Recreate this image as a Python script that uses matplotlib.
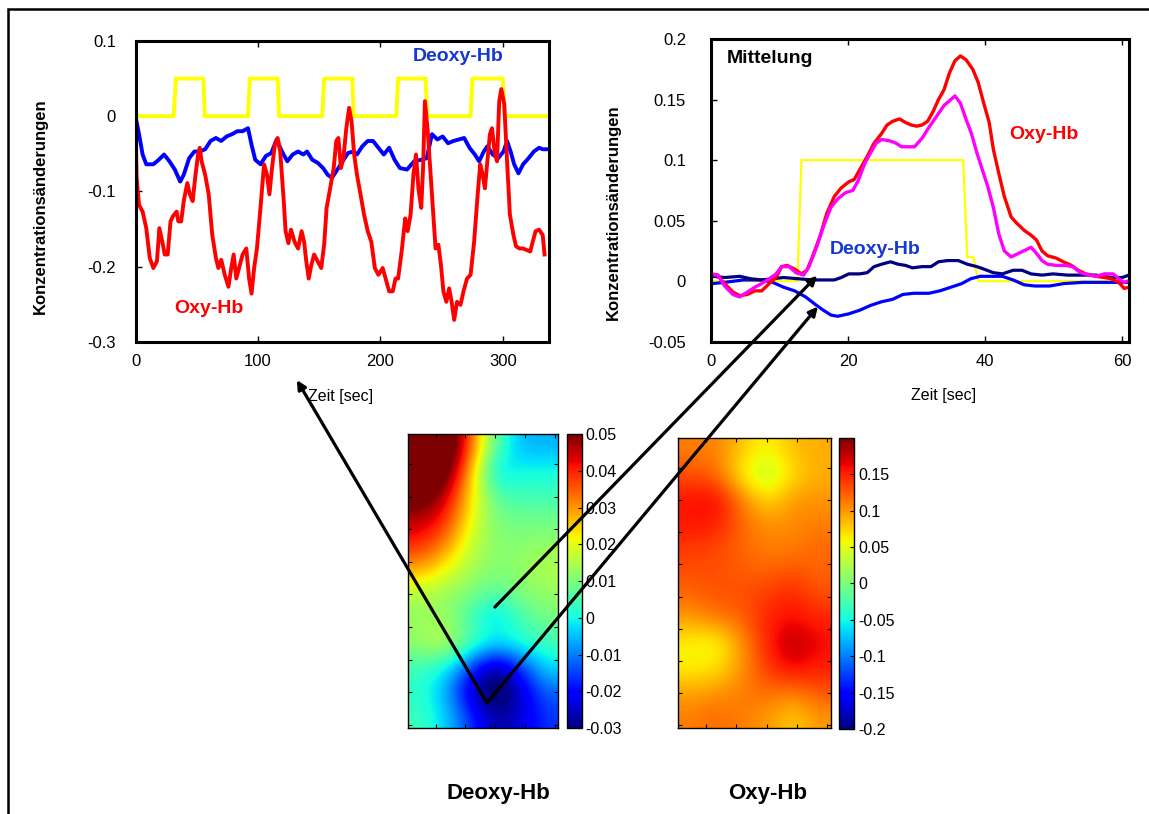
import numpy as np
import matplotlib
matplotlib.use('Agg')
import matplotlib.pyplot as plt
from matplotlib.patches import Rectangle, ConnectionPatch

plt.rcParams['font.family'] = ['Liberation Sans', 'DejaVu Sans']
plt.rcParams['axes.unicode_minus'] = False

# Einzelmessung: Oxy-Hb ueber die ganze Messung
zeit_oxy = [0, 0.9, 2.9, 5.8, 8.8, 11.7, 14.6, 17.5, 19.5, 21.9,
            23.9, 26.3, 28.6, 30.6, 33.6, 35, 37.3, 39.4, 42.3, 44.4,
            46.7, 49, 51.1, 52.5, 54, 56.9, 59.8, 62.7, 65.7, 67.7,
            70, 72.9, 75.9, 78.2, 80.2, 82.3, 84.6, 87.5, 90.5, 92.8,
            94.8, 96.9, 99.2, 102.1, 105, 107.4, 109.4, 111.5, 113.8, 116.1,
            118.2, 121.1, 122.6, 124.9, 127, 129.9, 132.8, 135.7, 137.7, 139.5,
            141.5, 143.6, 145.9, 148.8, 151.7, 154.1, 156.1, 159, 161.9, 164,
            165.7, 167.8, 169.8, 172.2, 174.5, 176.5, 178.6, 180.9, 183.8, 186.7,
            189.7, 192.6, 195.5, 198.4, 201.9, 204.3, 207.2, 210.1, 212.4, 214.5,
            217.4, 220.3, 222.3, 224.7, 227, 229.1, 231.1, 233.4, 234.9, 236.4,
            238.7, 240.7, 242.8, 245.1, 247.4, 249.5, 251.5, 253.9, 256.2, 258.2,
            260.3, 262.6, 265.5, 267.9, 270.8, 273.7, 276.6, 279.5, 281.6, 283.6,
            285.4, 287.4, 289.5, 291.2, 293.3, 295.3, 297.1, 298.8, 301.2, 303.5,
            305.8, 308.7, 310.8, 313.7, 316.6, 319.5, 322.4, 324.5, 326.8, 329.7,
            332.6, 334.1]
oxy = [0, -0.082, -0.118, -0.127, -0.149, -0.189, -0.202, -0.193, -0.149, -0.167,
       -0.184, -0.184, -0.14, -0.133, -0.127, -0.14, -0.14, -0.113, -0.089, -0.104,
       -0.113, -0.078, -0.051, -0.042, -0.06, -0.078, -0.104, -0.158, -0.189, -0.202,
       -0.191, -0.211, -0.227, -0.202, -0.184, -0.216, -0.202, -0.184, -0.176, -0.216,
       -0.236, -0.202, -0.176, -0.122, -0.064, -0.078, -0.104, -0.069, -0.038, -0.029,
       -0.047, -0.113, -0.153, -0.169, -0.151, -0.167, -0.176, -0.153, -0.167, -0.193,
       -0.216, -0.198, -0.184, -0.193, -0.202, -0.171, -0.122, -0.096, -0.069, -0.033,
       -0.029, -0.069, -0.056, -0.016, 0.011, -0.007, -0.051, -0.078, -0.104, -0.131,
       -0.153, -0.167, -0.202, -0.211, -0.202, -0.216, -0.233, -0.233, -0.216, -0.216,
       -0.18, -0.136, -0.153, -0.131, -0.078, -0.051, -0.096, -0.122, -0.069, 0.02,
       -0.02, -0.069, -0.122, -0.176, -0.171, -0.198, -0.233, -0.247, -0.229, -0.247,
       -0.271, -0.247, -0.251, -0.233, -0.216, -0.211, -0.167, -0.104, -0.064, -0.078,
       -0.096, -0.06, -0.024, -0.016, -0.047, -0.06, 0.02, 0.036, 0.016, -0.06,
       -0.131, -0.158, -0.173, -0.176, -0.176, -0.178, -0.18, -0.167, -0.153, -0.151,
       -0.158, -0.184]

# Einzelmessung: Deoxy-Hb
zeit_deoxy = [0, 2.9, 5.8, 8.8, 14.6, 19, 23.3, 27.7, 32.1, 36.5,
              39.4, 43.8, 48.1, 52.5, 56.9, 61.3, 65.7, 70, 74.4, 78.8,
              83.2, 87.5, 91.9, 94.8, 97.8, 102.1, 106.5, 110.9, 115.3, 119.6,
              124, 128.4, 132.8, 137.1, 140.1, 144.4, 148.8, 153.2, 157, 160.5,
              164.9, 169.2, 173.6, 178, 180.9, 185.3, 189.7, 194, 198.4, 202.8,
              207.2, 211.6, 215.9, 221.8, 227.6, 233.4, 237.8, 242.2, 246.6, 250.9,
              255.3, 259.7, 264.1, 268.5, 272.8, 277.2, 280.7, 284.5, 287.4, 291.8,
              296.2, 300.6, 303.5, 306.4, 309.3, 312.8, 316.6, 321, 325.4, 329.7,
              332.6, 335.6]
deoxy = [0, -0.024, -0.051, -0.064, -0.064, -0.058, -0.051, -0.06, -0.071, -0.087,
         -0.078, -0.056, -0.047, -0.047, -0.044, -0.033, -0.029, -0.033, -0.027, -0.024,
         -0.02, -0.02, -0.016, -0.038, -0.058, -0.064, -0.053, -0.049, -0.031, -0.047,
         -0.06, -0.051, -0.047, -0.051, -0.047, -0.058, -0.062, -0.069, -0.078, -0.082,
         -0.071, -0.06, -0.049, -0.047, -0.051, -0.04, -0.033, -0.033, -0.042, -0.051,
         -0.042, -0.058, -0.069, -0.071, -0.06, -0.058, -0.056, -0.024, -0.031, -0.027,
         -0.036, -0.033, -0.031, -0.029, -0.042, -0.051, -0.06, -0.047, -0.04, -0.051,
         -0.056, -0.047, -0.033, -0.047, -0.064, -0.076, -0.064, -0.056, -0.047, -0.042,
         -0.044, -0.044]

# Reizblöcke der Einzelmessung
zeit_reiz = [0, 31.2, 33, 55.4, 56.6, 91.9, 93.4, 116.1, 117.3, 152.6, 154.1,
             177.1, 178.3, 213, 214.5, 236.9, 238.4, 273.7, 275.2, 300, 301.5, 337]
reiz = [0, 0, 0.05, 0.05, 0, 0, 0.05, 0.05, 0, 0, 0.05,
        0.05, 0, 0, 0.05, 0.05, 0, 0, 0.05, 0.05, 0, 0]

# Mittelung über die Blöcke
zeit_m_oxy = [0.2, 1, 1.8, 3.2, 4.2, 5.3, 6.4, 7.4, 8.5, 9.5,
              10.3, 11.1, 12.2, 13.2, 14, 14.8, 15.9, 16.9, 18, 19,
              20.1, 20.9, 21.7, 22.8, 23.8, 24.9, 25.7, 26.5, 27.5, 28.4,
              29.2, 30, 30.8, 31.6, 32.4, 33.2, 34, 34.8, 35.6, 36.4,
              37.2, 38.2, 39, 39.8, 40.6, 41.2, 42, 42.8, 43.8, 44.6,
              45.7, 46.7, 47.5, 48.3, 49.1, 50.4, 51.4, 52.6, 53.6, 54.7,
              56.2, 57.4, 58.4, 59.5, 60.3, 61]
m_oxy = [0.005, 0.005, -0.001, -0.009, -0.012, -0.011, -0.008, -0.008, -0.002, 0.003,
         0.012, 0.013, 0.01, 0.006, 0.009, 0.02, 0.037, 0.056, 0.07, 0.077,
         0.082, 0.084, 0.092, 0.103, 0.114, 0.122, 0.129, 0.132, 0.134, 0.131,
         0.129, 0.128, 0.129, 0.132, 0.14, 0.15, 0.158, 0.172, 0.182, 0.186,
         0.183, 0.175, 0.164, 0.147, 0.131, 0.109, 0.089, 0.07, 0.053, 0.048,
         0.042, 0.038, 0.034, 0.025, 0.021, 0.019, 0.016, 0.013, 0.009, 0.006,
         0.004, 0.003, 0.002, -0.001, -0.006, -0.005]

zeit_m_oxy2 = [0.2, 1, 2, 3.2, 4.2, 5.3, 6.4, 7.4, 8.5, 9.5,
               10.3, 11.4, 12.4, 13.5, 14.3, 15.4, 16.4, 17.5, 18.5, 19.6,
               20.7, 21.4, 22.5, 23.3, 24.1, 24.9, 26, 27, 27.8, 28.7,
               29.7, 30.8, 31.8, 32.9, 34, 35, 35.6, 36.4, 37.2, 38,
               38.8, 39.6, 40.4, 41.2, 42, 42.8, 43.8, 44.9, 46, 46.7,
               47.5, 48.3, 49.1, 50.4, 51.8, 52.8, 53.9, 55.2, 56.2, 57.4,
               58.7, 59.5, 60.3, 60.8]
m_oxy2 = [0.006, 0.005, -0.004, -0.011, -0.013, -0.009, -0.005, -0.002, 0.002, 0.006,
          0.012, 0.012, 0.007, 0.005, 0.012, 0.028, 0.045, 0.061, 0.068, 0.073,
          0.075, 0.082, 0.098, 0.106, 0.114, 0.117, 0.116, 0.114, 0.111, 0.111,
          0.111, 0.118, 0.127, 0.136, 0.145, 0.15, 0.153, 0.147, 0.134, 0.122,
          0.106, 0.092, 0.078, 0.061, 0.039, 0.025, 0.02, 0.023, 0.026, 0.028,
          0.023, 0.017, 0.014, 0.013, 0.013, 0.012, 0.007, 0.005, 0.004, 0.006,
          0.006, 0.002, -0.001, 0]

zeit_m_deoxy = [0.2, 2, 4.2, 5.8, 7.4, 9, 10.6, 12.7, 14.8, 16.9,
                18, 19, 20.1, 21.7, 22.8, 23.8, 24.9, 26.2, 27.3, 28.4,
                29.4, 30.8, 32.1, 33.2, 34.5, 36.1, 37.4, 38.8, 39.8, 41.2,
                42.5, 44.1, 45.4, 46.7, 48.3, 49.9, 52, 54.2, 56.2, 58.4,
                60, 61]
m_deoxy = [0.004, 0.003, 0.004, 0.002, 0.001, 0.002, 0.003, 0.002, 0.001, 0.001,
           0.001, 0.003, 0.006, 0.006, 0.007, 0.012, 0.014, 0.016, 0.014, 0.013,
           0.011, 0.012, 0.012, 0.016, 0.017, 0.017, 0.014, 0.012, 0.01, 0.007,
           0.006, 0.009, 0.009, 0.006, 0.005, 0.006, 0.005, 0.005, 0.005, 0.003,
           0.003, 0.005]

zeit_m_deoxy2 = [0.2, 2, 4.7, 7.4, 9, 10.6, 12.2, 13.8, 15.4, 16.4,
                 17.5, 18.5, 20.1, 21.7, 23.3, 24.9, 26.5, 28, 29.6, 31.8,
                 33.4, 35, 36.6, 37.9, 39.3, 40.9, 42.5, 44.1, 45.7, 47.3,
                 49.4, 51.5, 54.2, 57.4, 59.5, 61]
m_deoxy2 = [-0.002, -0.001, 0.001, 0.001, -0.001, -0.005, -0.008, -0.013, -0.02, -0.024,
            -0.028, -0.029, -0.027, -0.024, -0.02, -0.017, -0.015, -0.011, -0.01, -0.01,
            -0.008, -0.005, -0.002, 0.002, 0.004, 0.004, 0.004, 0.001, -0.003, -0.004,
            -0.004, -0.002, -0.001, -0.001, -0.001, -0.001]

zeit_m_reiz = [0, 12.6, 13.2, 36.8, 37.4, 38.3, 39, 61]
m_reiz = [0, 0, 0.1, 0.1, 0.02, 0.02, 0, 0]

# Topographische Karten (Zeilen von oben nach unten)
karte_deoxy = np.array([
    [0.068, 0.062, 0.036, 0.006, -0.006, -0.006],
    [0.066, 0.056, 0.028, -0.004, 0.0, 0.0],
    [0.056, 0.046, 0.024, 0.006, 0.004, 0.004],
    [0.046, 0.04, 0.021, 0.01, 0.009, 0.009],
    [0.04, 0.032, 0.017, 0.011, 0.011, 0.012],
    [0.029, 0.021, 0.014, 0.011, 0.012, 0.016],
    [0.015, 0.013, 0.01, 0.006, 0.011, 0.012],
    [0.012, 0.013, 0.004, -0.005, 0.004, 0.01],
    [0.013, 0.018, 0.006, 0.0, 0.002, 0.004],
    [0.004, 0.0, -0.015, -0.03, -0.016, -0.002],
    [0.002, -0.006, -0.025, -0.038, -0.025, -0.012],
    [0.004, -0.003, -0.016, -0.028, -0.024, -0.016]])

karte_oxy = np.array([
    [0.11, 0.11, 0.08, 0.055, 0.085, 0.09],
    [0.13, 0.12, 0.06, 0.025, 0.07, 0.09],
    [0.155, 0.165, 0.11, 0.065, 0.1, 0.1],
    [0.155, 0.155, 0.12, 0.1, 0.105, 0.11],
    [0.14, 0.135, 0.12, 0.11, 0.11, 0.12],
    [0.13, 0.13, 0.125, 0.12, 0.13, 0.12],
    [0.12, 0.13, 0.13, 0.14, 0.15, 0.13],
    [0.095, 0.11, 0.12, 0.15, 0.16, 0.15],
    [0.06, 0.05, 0.1, 0.15, 0.185, 0.16],
    [0.06, 0.065, 0.1, 0.14, 0.165, 0.15],
    [0.095, 0.1, 0.11, 0.12, 0.11, 0.13],
    [0.11, 0.12, 0.11, 0.1, 0.075, 0.1]])

deoxy_ticks = [-0.03, -0.02, -0.01, 0, 0.01, 0.02, 0.03, 0.04, 0.05]
oxy_ticks = [-0.2, -0.15, -0.1, -0.05, 0, 0.05, 0.1, 0.15]

W, H = 1149, 814
fig = plt.figure(figsize=(W / 100, H / 100), dpi=100)


def achse(x0, y0, x1, y1):
    # Pixelrahmen (von oben gemessen) -> Figure-Koordinaten
    return fig.add_axes([x0 / W, 1 - y1 / H, (x1 - x0) / W, (y1 - y0) / H])


blau_text = '#1538d0'

# --- Einzelmessung ---
ax1 = achse(135.5, 41, 549.3, 341.7)
ax1.plot(zeit_reiz, reiz, color='#ffff00', lw=2.8)
ax1.plot(zeit_deoxy, deoxy, color='#0000ff', lw=2.8)
ax1.plot(zeit_oxy, oxy, color='#ff0000', lw=2.8)
ax1.set_xlim(0, 338)
ax1.set_ylim(-0.3, 0.1)
ax1.set_xticks([0, 100, 200, 300])
ax1.set_yticks([-0.3, -0.2, -0.1, 0, 0.1], ['-0.3', '-0.2', '-0.1', '0', '0.1'])
ax1.tick_params(direction='in', length=4, width=1, top=True, labelsize=12)
ax1.tick_params(axis='y', pad=14)
ax1.tick_params(axis='x', pad=9)
for s in ax1.spines.values():
    s.set_linewidth(2.2)
ax1.set_ylabel('Konzentrationsänderungen', fontsize=12, fontweight='bold')
ax1.yaxis.set_label_coords(-0.212, 0.451)
ax1.set_xlabel('Zeit [sec]', fontsize=11.5)
ax1.xaxis.set_label_coords(0.496, -0.157)
ax1.text(0.779, 0.947, 'Deoxy-Hb', transform=ax1.transAxes, color=blau_text,
         fontsize=14, fontweight='bold', ha='center', va='center')
ax1.text(0.1775, 0.112, 'Oxy-Hb', transform=ax1.transAxes, color='#ff0000',
         fontsize=14, fontweight='bold', ha='center', va='center')

# --- Mittelung ---
ax2 = achse(711, 39, 1129, 341.7)
ax2.plot(zeit_m_reiz, m_reiz, color='#ffff00', lw=1.6)
ax2.plot(zeit_m_deoxy2, m_deoxy2, color='#0000ff', lw=2.3)
ax2.plot(zeit_m_deoxy, m_deoxy, color='#000080', lw=2.3)
ax2.plot(zeit_m_oxy, m_oxy, color='#ff0000', lw=2.4)
ax2.plot(zeit_m_oxy2, m_oxy2, color='#ff00ff', lw=2.4)
ax2.set_xlim(0, 61)
ax2.set_ylim(-0.05, 0.2)
ax2.set_xticks([0, 20, 40, 60])
ax2.set_yticks([-0.05, 0, 0.05, 0.1, 0.15, 0.2],
               ['-0.05', '0', '0.05', '0.1', '0.15', '0.2'])
ax2.tick_params(direction='in', length=4, width=1, top=True, labelsize=12)
ax2.tick_params(axis='y', pad=18)
ax2.tick_params(axis='x', pad=9)
for s in ax2.spines.values():
    s.set_linewidth(2.2)
ax2.set_ylabel('Konzentrationsänderungen', fontsize=12, fontweight='bold')
ax2.yaxis.set_label_coords(-0.215, 0.428)
ax2.set_xlabel('Zeit [sec]', fontsize=11.5)
ax2.xaxis.set_label_coords(0.556, -0.153)
ax2.text(0.038, 0.937, 'Mittelung', transform=ax2.transAxes, color='black',
         fontsize=14, fontweight='bold', ha='left', va='center')
ax2.text(0.797, 0.686, 'Oxy-Hb', transform=ax2.transAxes, color='#ff0000',
         fontsize=14, fontweight='bold', ha='center', va='center')
ax2.text(0.392, 0.303, 'Deoxy-Hb', transform=ax2.transAxes, color=blau_text,
         fontsize=14, fontweight='bold', ha='center', va='center')

# --- Karten mit Farbskala ---
ausdehnung = (0.08, 5.12, 9.09, 0.09)


def karte(ax, cax, daten, vmin, vmax, ticks):
    im = ax.imshow(daten, cmap='jet', vmin=vmin, vmax=vmax, extent=ausdehnung,
                   interpolation='bicubic', aspect='auto')
    ax.set_xticks(range(1, 6))
    ax.set_yticks(range(1, 10))
    ax.tick_params(direction='in', length=3, width=0.8, top=True, right=True,
                   labelbottom=False, labelleft=False)
    for s in ax.spines.values():
        s.set_linewidth(1)
    cb = fig.colorbar(im, cax=cax, ticks=ticks)
    cb.ax.set_yticklabels(['%g' % t for t in ticks])
    cb.ax.tick_params(labelsize=11.5, direction='in', length=3, width=0.8, pad=3)
    cb.outline.set_linewidth(1)
    return im


ax_d = achse(408.3, 434.3, 558.3, 727.7)
cax_d = achse(566.7, 434.3, 581.5, 728)
karte(ax_d, cax_d, karte_deoxy, -0.03, 0.05, deoxy_ticks)

ax_o = achse(678.3, 438.3, 831, 728.3)
cax_o = achse(839.3, 437.7, 854, 729)
karte(ax_o, cax_o, karte_oxy, -0.2, 0.2, oxy_ticks)

fig.text(498 / W, 1 - 793 / H, 'Deoxy-Hb', fontsize=16, fontweight='bold',
         ha='center', va='center')
fig.text(768 / W, 1 - 793 / H, 'Oxy-Hb', fontsize=16, fontweight='bold',
         ha='center', va='center')

# Pfeile von den Kanälen zu den Zeitverläufen
pfeile = [
    ((2.72, 8.33), ax_d, (131.8, -0.351), ax1),
    ((2.72, 8.33), ax_d, (15.6, -0.021), ax2),
    ((2.99, 5.39), ax_d, (15.5, 0.0045), ax2),
]
for start, ax_a, ziel, ax_b in pfeile:
    cp = ConnectionPatch(xyA=start, coordsA=ax_a.transData,
                         xyB=ziel, coordsB=ax_b.transData,
                         arrowstyle='-|>', mutation_scale=13, lw=2.3,
                         color='black', shrinkA=0, shrinkB=0)
    fig.add_artist(cp)

# Rahmen um die ganze Abbildung
fig.add_artist(Rectangle((8 / W, -1), 2, 2 - 9 / H, transform=fig.transFigure,
                         fill=False, lw=1.8, edgecolor='black'))

fig.savefig('out.png', dpi=100)
